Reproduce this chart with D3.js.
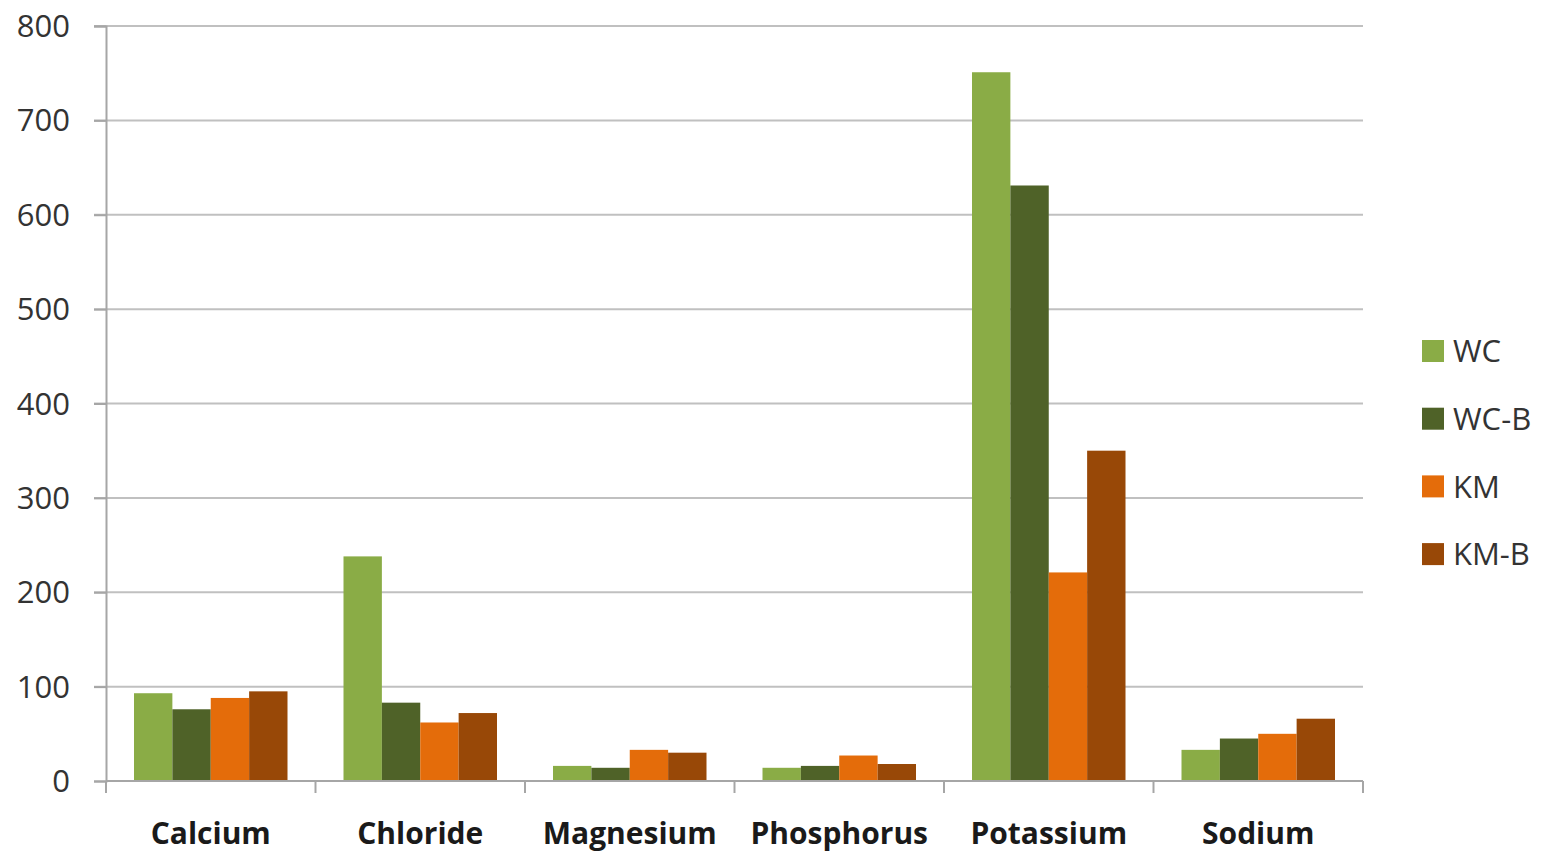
<!DOCTYPE html>
<html>
<head>
<meta charset="utf-8">
<script src="https://cdn.jsdelivr.net/npm/d3@7"></script>
<style>
  html, body { margin: 0; padding: 0; background: #fff; }
  svg { display: block; }
  text { font-family: "Open Sans", "Liberation Sans", sans-serif; }
</style>
</head>
<body>
<svg id="chart" width="1549" height="852"></svg>
<script>
// Mineral content per sample
const categories = ["Calcium", "Chloride", "Magnesium", "Phosphorus", "Potassium", "Sodium"];
const seriesNames = ["WC", "WC-B", "KM", "KM-B"];
const wc  = [93, 238, 16, 14, 751, 33];
const wcB = [76, 83, 14, 16, 631, 45];
const km  = [88, 62, 33, 27, 221, 50];
const kmB = [95, 72, 30, 18, 350, 66];
const yTicks = [0, 100, 200, 300, 400, 500, 600, 700, 800];
const colors = ["#8aac46", "#4f6228", "#e46c0a", "#984807"];

const seriesValues = [wc, wcB, km, kmB];

const svg = d3.select("#chart");
const plotLeft = 106, plotRight = 1363, plotTop = 26, plotBottom = 781;

const y = d3.scaleLinear().domain([0, 800]).range([plotBottom, plotTop]);
const x0 = d3.scaleBand().domain(categories).range([plotLeft, plotRight]).paddingInner(0).paddingOuter(0);
const groupPad = 28;
const x1 = d3.scaleBand().domain(seriesNames).range([groupPad, x0.bandwidth() - groupPad]).padding(0);

// Horizontal gridlines with short ticks to the left of the axis
svg.append("g")
  .selectAll("line")
  .data(yTicks.filter(d => d > 0))
  .join("line")
  .attr("x1", plotLeft - 12).attr("x2", plotRight)
  .attr("y1", d => y(d)).attr("y2", d => y(d))
  .attr("stroke", "#c0c0c0").attr("stroke-width", 2);

// Y axis
const yAxis = svg.append("g")
  .attr("transform", `translate(${plotLeft},0)`)
  .call(d3.axisLeft(y).tickValues(yTicks).tickSize(12).tickPadding(24));
yAxis.select(".domain").attr("stroke", "#a6a6a6").attr("stroke-width", 2);
yAxis.selectAll(".tick line").attr("stroke", "#a6a6a6").attr("stroke-width", 2);
yAxis.selectAll(".tick text")
  .attr("fill", "#333").style("font-size", "31px")
  .attr("dy", "0.34em");

// Bars
const groups = svg.append("g")
  .selectAll("g")
  .data(categories)
  .join("g")
  .attr("transform", d => `translate(${x0(d)},0)`);

groups.selectAll("rect")
  .data((c, i) => seriesNames.map((s, j) => ({ s, j, v: seriesValues[j][i] })))
  .join("rect")
  .attr("x", d => x1(d.s))
  .attr("width", x1.bandwidth())
  .attr("y", d => y(d.v))
  .attr("height", d => y(0) - y(d.v))
  .attr("fill", d => colors[d.j]);

// X axis with ticks between categories
const xAxis = svg.append("g")
  .attr("transform", `translate(0,${plotBottom})`);
xAxis.append("line")
  .attr("x1", plotLeft).attr("x2", plotRight)
  .attr("y1", 0).attr("y2", 0)
  .attr("stroke", "#a6a6a6").attr("stroke-width", 2);
const boundaries = categories.map(c => x0(c)).concat([x0(categories[categories.length - 1]) + x0.bandwidth()]);
xAxis.selectAll("line.tk")
  .data(boundaries)
  .join("line")
  .attr("class", "tk")
  .attr("x1", d => d).attr("x2", d => d)
  .attr("y1", 0).attr("y2", 12)
  .attr("stroke", "#a6a6a6").attr("stroke-width", 2);
xAxis.selectAll("text")
  .data(categories)
  .join("text")
  .attr("x", d => x0(d) + x0.bandwidth() / 2)
  .attr("y", 63)
  .attr("text-anchor", "middle")
  .attr("fill", "#1a1a1a")
  .style("font-size", "30px")
  .style("font-weight", "bold")
  .text(d => d);

// Legend
const legend = svg.append("g")
  .selectAll("g")
  .data(seriesNames)
  .join("g")
  .attr("transform", (d, i) => `translate(1422,${351 + i * 67.7})`);
legend.append("rect")
  .attr("x", 0).attr("y", -11)
  .attr("width", 22).attr("height", 22)
  .attr("fill", (d, i) => colors[i]);
legend.append("text")
  .attr("x", 31).attr("y", 0).attr("dy", "0.36em")
  .attr("fill", "#333")
  .style("font-size", "31px")
  .text(d => d);
</script>
</body>
</html>
